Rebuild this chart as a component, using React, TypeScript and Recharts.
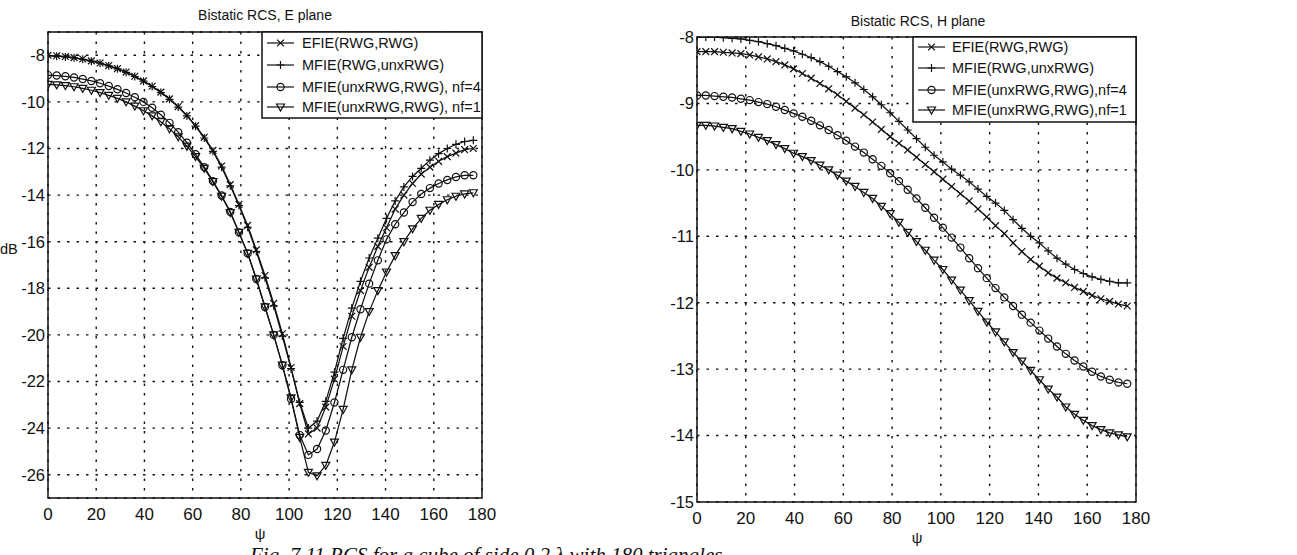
import React from "react";
import { LineChart, Line, XAxis, YAxis, CartesianGrid, ReferenceArea } from "recharts";

// scattering angle psi (degrees) of every sample
const PSI = [
  0, 3.6, 7.2, 10.8, 14.4, 18, 21.6, 25.2, 28.8, 32.4,
  36, 39.6, 43.2, 46.8, 50.4, 54, 57.6, 61.2, 64.8, 68.4,
  72, 75.6, 79.2, 82.8, 86.4, 90, 93.6, 97.2, 100.8, 104.4,
  108, 111.6, 115.2, 118.8, 122.4, 126, 129.6, 133.2, 136.8, 140.4,
  144, 147.6, 151.2, 154.8, 158.4, 162, 165.6, 169.2, 172.8, 176.4,
];

const X_TICKS = [0, 20, 40, 60, 80, 100, 120, 140, 160, 180];
const E_TICKS = [-26, -24, -22, -20, -18, -16, -14, -12, -10, -8];
const H_TICKS = [-15, -14, -13, -12, -11, -10, -9, -8];

// E plane, dB
const E_EFIE = [
  -8.0, -8.02, -8.05, -8.1, -8.16, -8.24, -8.33, -8.44, -8.57, -8.72,
  -8.9, -9.1, -9.33, -9.58, -9.87, -10.2, -10.58, -11.02, -11.52, -12.08,
  -12.75, -13.55, -14.4, -15.3, -16.35, -17.45, -18.65, -19.95, -21.4, -22.95,
  -24.25, -24.0, -23.1, -21.9, -20.5, -19.2, -18.1, -17.1, -16.2, -15.4,
  -14.6, -14.0, -13.5, -13.1, -12.8, -12.55, -12.35, -12.2, -12.05, -12.0,
];
const E_MFIE_RWG = [
  -8.02, -8.04, -8.07, -8.11, -8.17, -8.25, -8.34, -8.45, -8.58, -8.73,
  -8.91, -9.11, -9.34, -9.6, -9.89, -10.22, -10.6, -11.04, -11.55, -12.12,
  -12.8, -13.6, -14.45, -15.38, -16.42, -17.55, -18.75, -20.05, -21.45, -22.9,
  -24.0, -23.7, -22.85, -21.6, -20.15, -18.85, -17.7, -16.7, -15.85, -15.0,
  -14.25, -13.65, -13.2, -12.85, -12.5, -12.22, -12.0, -11.82, -11.7, -11.65,
];
const E_MFIE_NF4 = [
  -8.85, -8.87, -8.9, -8.95, -9.02, -9.1, -9.2, -9.32, -9.46, -9.62,
  -9.8, -10.0, -10.25, -10.55, -10.9, -11.3, -11.75, -12.25, -12.8, -13.4,
  -14.02, -14.72, -15.6, -16.5, -17.6, -18.8, -20.0, -21.3, -22.75, -24.3,
  -25.15, -24.9, -24.1, -22.9, -21.5, -20.1, -18.9, -17.8, -16.8, -15.9,
  -15.25, -14.75, -14.3, -13.95, -13.7, -13.5, -13.35, -13.22, -13.15, -13.15,
];
const E_MFIE_NF1 = [
  -9.25, -9.27, -9.3, -9.35, -9.42, -9.5, -9.6, -9.72, -9.85, -10.0,
  -10.18, -10.38, -10.6, -10.85, -11.15, -11.5, -11.9, -12.35, -12.85, -13.42,
  -14.05, -14.75, -15.6, -16.5, -17.6, -18.8, -20.0, -21.3, -22.7, -24.4,
  -25.9, -26.05, -25.6, -24.6, -23.2, -21.5, -20.1, -19.0, -18.1, -17.3,
  -16.6, -16.0, -15.45, -15.0, -14.65, -14.4, -14.2, -14.05, -13.95, -13.9,
];

// H plane, dB
const H_EFIE = [
  -8.22, -8.22, -8.22, -8.23, -8.24, -8.25, -8.27, -8.3, -8.33, -8.37,
  -8.42, -8.48, -8.55, -8.62, -8.7, -8.78, -8.87, -8.97, -9.07, -9.17,
  -9.28, -9.39, -9.5, -9.6, -9.7, -9.81, -9.92, -10.03, -10.14, -10.25,
  -10.36, -10.47, -10.59, -10.71, -10.84, -10.96, -11.1, -11.23, -11.35, -11.45,
  -11.55, -11.63, -11.7, -11.77, -11.83, -11.89, -11.94, -11.98, -12.02, -12.05,
];
const H_MFIE_RWG = [
  -8.0, -8.0, -8.0, -8.01, -8.02, -8.03, -8.05, -8.07, -8.1, -8.13,
  -8.17, -8.21, -8.26, -8.31, -8.37, -8.44, -8.52, -8.6, -8.69, -8.79,
  -8.9, -9.02, -9.14, -9.27, -9.4, -9.53, -9.66, -9.78, -9.88, -9.99,
  -10.08, -10.18, -10.29, -10.4, -10.5, -10.61, -10.75, -10.88, -11.0, -11.1,
  -11.22, -11.33, -11.42, -11.5, -11.56, -11.61, -11.65, -11.68, -11.7, -11.7,
];
const H_MFIE_NF4 = [
  -8.88, -8.88, -8.89, -8.9, -8.91, -8.93, -8.95, -8.98, -9.01, -9.05,
  -9.1, -9.15, -9.2, -9.26, -9.33, -9.4, -9.48, -9.56, -9.65, -9.74,
  -9.84, -9.94, -10.05, -10.17, -10.3, -10.43, -10.57, -10.72, -10.87, -11.02,
  -11.17, -11.33, -11.48, -11.63, -11.78, -11.92, -12.05, -12.18, -12.3, -12.42,
  -12.54, -12.66, -12.77, -12.87, -12.96, -13.04, -13.11, -13.16, -13.2, -13.22,
];
const H_MFIE_NF1 = [
  -9.33, -9.33, -9.34, -9.36, -9.38, -9.42, -9.46, -9.51, -9.56, -9.62,
  -9.68, -9.75, -9.8, -9.86, -9.93, -10.0, -10.08, -10.17, -10.25, -10.34,
  -10.43, -10.55, -10.66, -10.79, -10.94, -11.08, -11.21, -11.36, -11.5, -11.66,
  -11.81, -11.97, -12.13, -12.29, -12.44, -12.59, -12.75, -12.88, -13.02, -13.16,
  -13.3, -13.42, -13.57, -13.68, -13.77, -13.85, -13.91, -13.96, -13.99, -14.02,
];

const E_LABELS = ["EFIE(RWG,RWG)", "MFIE(RWG,unxRWG)", "MFIE(unxRWG,RWG), nf=4", "MFIE(unxRWG,RWG), nf=1"];
const H_LABELS = ["EFIE(RWG,RWG)", "MFIE(RWG,unxRWG)", "MFIE(unxRWG,RWG),nf=4", "MFIE(unxRWG,RWG),nf=1"];

type Mark = "x" | "plus" | "circle" | "tri";
const MARKS: Mark[] = ["x", "plus", "circle", "tri"];
const KEYS = ["efie", "mfieRwg", "mfieNf4", "mfieNf1"];

const INK = "#111";
const SANS = "'Liberation Sans', Arial, Helvetica, sans-serif";

function Marker({ cx, cy, mark }: { cx: number; cy: number; mark: Mark }) {
  const s = 3.4;
  const common = { stroke: INK, strokeWidth: 1.2, fill: "none" };
  if (mark === "x")
    return <path {...common} d={`M${cx - s},${cy - s}L${cx + s},${cy + s}M${cx - s},${cy + s}L${cx + s},${cy - s}`} />;
  if (mark === "plus")
    return <path {...common} d={`M${cx - s - 0.6},${cy}L${cx + s + 0.6},${cy}M${cx},${cy - s - 0.6}L${cx},${cy + s + 0.6}`} />;
  if (mark === "circle") return <circle {...common} cx={cx} cy={cy} r={3.6} />;
  return <path {...common} d={`M${cx - 4},${cy - 3}L${cx + 4},${cy - 3}L${cx},${cy + 4}Z`} />;
}

const dotFor = (mark: Mark) => (props: any) => {
  const { cx, cy, index } = props;
  if (cx == null || cy == null) return <g key={`${mark}-${index}`} />;
  return <Marker key={`${mark}-${index}`} cx={cx} cy={cy} mark={mark} />;
};

function buildRows(a: number[], b: number[], c: number[], d: number[]) {
  return PSI.map((psi, i) => ({ psi, efie: a[i], mfieRwg: b[i], mfieNf4: c[i], mfieNf1: d[i] }));
}

const E_ROWS = buildRows(E_EFIE, E_MFIE_RWG, E_MFIE_NF4, E_MFIE_NF1);
const H_ROWS = buildRows(H_EFIE, H_MFIE_RWG, H_MFIE_NF4, H_MFIE_NF1);

function Panel({ rows, yDomain, yTicks, width, height, margin }: {
  rows: any[]; yDomain: [number, number]; yTicks: number[]; width: number; height: number;
  margin: { top: number; right: number; bottom: number; left: number };
}) {
  return (
    <LineChart width={width} height={height} data={rows} margin={margin}>
      <CartesianGrid stroke={INK} strokeWidth={1.4} strokeDasharray="2.5 7" />
      <XAxis
        dataKey="psi" type="number" domain={[0, 180]} ticks={X_TICKS} allowDataOverflow
        axisLine={false} tickLine={false} height={32} tickMargin={4}
        tick={{ fill: INK, fontSize: 17, fontFamily: SANS }}
      />
      <YAxis
        type="number" domain={yDomain} ticks={yTicks} allowDataOverflow
        axisLine={false} tickLine={false} width={40} tickSize={2} tickMargin={1}
        tick={{ fill: INK, fontSize: 16.5, fontFamily: SANS }}
      />
      <ReferenceArea x1={0} x2={180} y1={yDomain[0]} y2={yDomain[1]} fill="none" stroke={INK} strokeWidth={1.5} ifOverflow="visible" />
      {KEYS.map((k, i) => (
        <Line key={k} type="linear" dataKey={k} stroke={INK} strokeWidth={1.25}
          dot={dotFor(MARKS[i])} activeDot={false} isAnimationActive={false} />
      ))}
    </LineChart>
  );
}

function LegendBox({ x, y, w, h, labels, rowY, textX }: {
  x: number; y: number; w: number; h: number; labels: string[]; rowY: number[]; textX: number;
}) {
  return (
    <g>
      <rect x={x} y={y} width={w} height={h} fill="#fff" stroke={INK} strokeWidth={1.5} />
      {labels.map((label, i) => (
        <g key={label}>
          <line x1={x + 5} x2={x + 32} y1={y + rowY[i]} y2={y + rowY[i]} stroke={INK} strokeWidth={1.2} />
          <Marker cx={x + 18.5} cy={y + rowY[i]} mark={MARKS[i]} />
          <text x={x + textX} y={y + rowY[i] + 5} fontSize={14.5} fontFamily={SANS} fill={INK}>{label}</text>
        </g>
      ))}
    </g>
  );
}

export default function App() {
  return (
    <div style={{ position: "absolute", left: 0, top: 0, width: 1297, height: 555, background: "#fff", overflow: "hidden" }}>
      <div style={{ position: "absolute", left: 0, top: 0 }}>
        <Panel rows={E_ROWS} yDomain={[-27, -7]} yTicks={E_TICKS} width={500} height={530}
          margin={{ top: 32, right: 18, bottom: 0, left: 8 }} />
      </div>
      <div style={{ position: "absolute", left: 650, top: 0 }}>
        <Panel rows={H_ROWS} yDomain={[-15, -8]} yTicks={H_TICKS} width={500} height={534}
          margin={{ top: 37, right: 14, bottom: 0, left: 7 }} />
      </div>
      <svg width={1297} height={555} style={{ position: "absolute", left: 0, top: 0, pointerEvents: "none" }}>
        <text x={265} y={20} textAnchor="middle" fontSize={14} fontFamily={SANS} fill={INK}>Bistatic RCS, E plane</text>
        <text x={918} y={26} textAnchor="middle" fontSize={14} fontFamily={SANS} fill={INK}>Bistatic RCS, H plane</text>
        <text x={0} y={254} fontSize={14.5} fontFamily={SANS} fill={INK}>dB</text>
        <text x={260} y={539} textAnchor="middle" fontSize={15} fontFamily={SANS} fill={INK}>ψ</text>
        <text x={917} y={543} textAnchor="middle" fontSize={15} fontFamily={SANS} fill={INK}>ψ</text>
        <LegendBox x={262} y={32} w={220} h={86} labels={E_LABELS} rowY={[11, 33, 55, 75]} textX={40} />
        <LegendBox x={913} y={37} w={223} h={85} labels={H_LABELS} rowY={[10, 31, 53, 73]} textX={39} />
        <text x={250} y={562} fontSize={21} fontStyle="italic" fontFamily="'Liberation Serif', 'Times New Roman', serif" fill={INK}>
          Fig. 7.11 RCS for a cube of side 0.2 λ with 180 triangles
        </text>
      </svg>
    </div>
  );
}
